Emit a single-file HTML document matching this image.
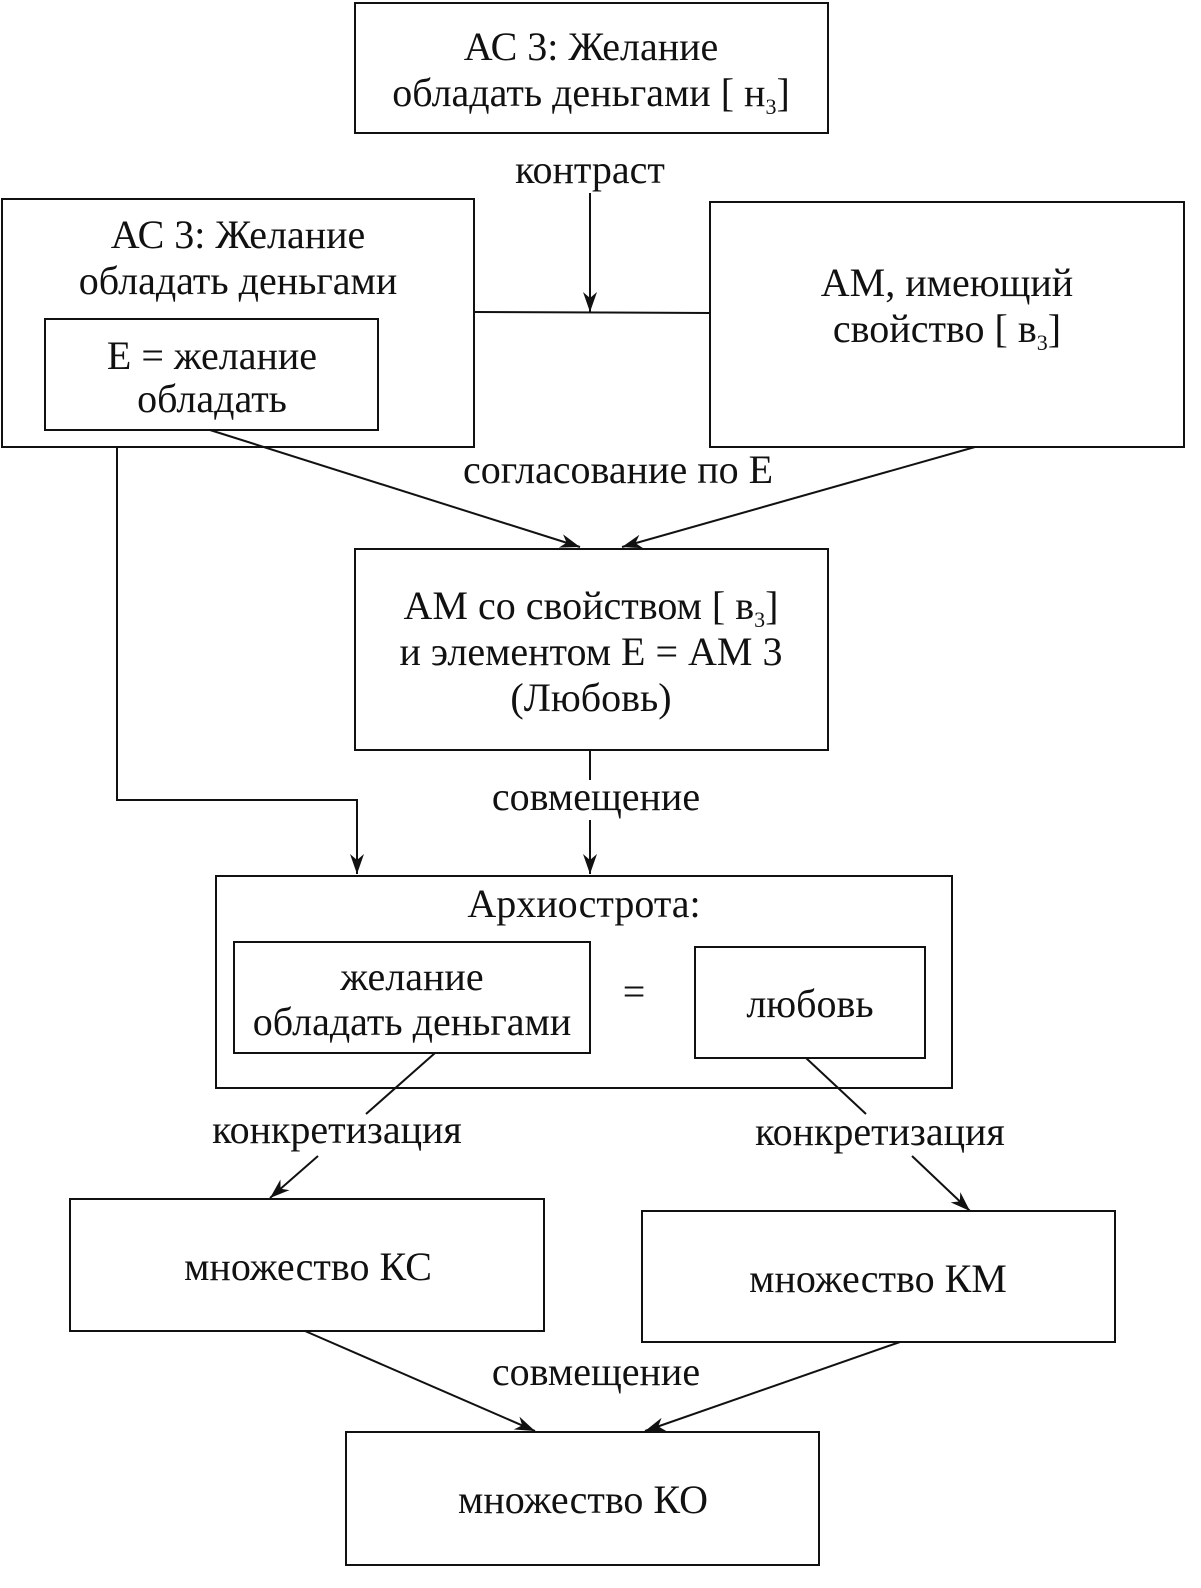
<!DOCTYPE html>
<html><head><meta charset="utf-8"><style>
html,body{margin:0;padding:0;background:#fff}
svg{display:block}
text{font-family:"Liberation Serif",serif;font-size:40px;fill:#111}
.s{font-size:22px}
</style></head><body>
<svg width="1201" height="1588" viewBox="0 0 1201 1588" xmlns="http://www.w3.org/2000/svg">
<defs>
<marker id="a" viewBox="0 0 20 14" refX="20" refY="7" markerWidth="20" markerHeight="14" markerUnits="userSpaceOnUse" orient="auto">
<path d="M0,0 L20,7 L0,14 L6,7 Z" fill="#111"/>
</marker>
</defs>
<g fill="none" stroke="#111" stroke-width="2">
<rect x="355" y="3" width="473" height="130"/>
<rect x="2" y="199" width="472" height="248"/>
<rect x="45" y="319" width="333" height="111"/>
<rect x="710" y="202" width="474" height="245"/>
<rect x="355" y="549" width="473" height="201"/>
<rect x="216" y="876" width="736" height="212"/>
<rect x="234" y="942" width="356" height="111"/>
<rect x="695" y="947" width="230" height="111"/>
<rect x="70" y="1199" width="474" height="132"/>
<rect x="642" y="1211" width="473" height="131"/>
<rect x="346" y="1432" width="473" height="133"/>
<line x1="474" y1="312" x2="710" y2="313"/>
<line x1="590" y1="193" x2="590" y2="312" marker-end="url(#a)"/>
<line x1="210" y1="430" x2="580" y2="547" marker-end="url(#a)"/>
<line x1="975" y1="447" x2="622" y2="547" marker-end="url(#a)"/>
<line x1="590" y1="750" x2="590" y2="780"/>
<line x1="590" y1="820" x2="590" y2="874" marker-end="url(#a)"/>
<polyline points="117,447 117,800 357,800 357,874" marker-end="url(#a)"/>
<line x1="435" y1="1053" x2="366" y2="1114"/>
<line x1="318" y1="1156" x2="270" y2="1198" marker-end="url(#a)"/>
<line x1="806" y1="1058" x2="866" y2="1114"/>
<line x1="912" y1="1156" x2="970" y2="1211" marker-end="url(#a)"/>
<line x1="305" y1="1331" x2="535" y2="1431" marker-end="url(#a)"/>
<line x1="900" y1="1342" x2="645" y2="1431" marker-end="url(#a)"/>
</g>
<g text-anchor="middle">
<text x="591" y="60">АС  3: Желание</text>
<text x="591" y="106">обладать деньгами [ н<tspan class="s" dy="8">3</tspan><tspan dy="-8">]</tspan></text>
<text x="590" y="183">контраст</text>
<text x="238" y="248">АС  3: Желание</text>
<text x="238" y="294">обладать деньгами</text>
<text x="212" y="369">Е = желание</text>
<text x="212" y="412">обладать</text>
<text x="947" y="296">АМ, имеющий</text>
<text x="947" y="342">свойство [ в<tspan class="s" dy="8">3</tspan><tspan dy="-8">]</tspan></text>
<text x="618" y="483">согласование по Е</text>
<text x="591" y="619">АМ со свойством [ в<tspan class="s" dy="8">3</tspan><tspan dy="-8">]</tspan></text>
<text x="591" y="665">и элементом Е = АМ 3</text>
<text x="591" y="711">(Любовь)</text>
<text x="596" y="810">совмещение</text>
<text x="584" y="917">Архиострота:</text>
<text x="412" y="990">желание</text>
<text x="412" y="1035">обладать деньгами</text>
<text x="634" y="1005">=</text>
<text x="810" y="1017">любовь</text>
<text x="337" y="1143">конкретизация</text>
<text x="880" y="1145">конкретизация</text>
<text x="308" y="1280">множество КС</text>
<text x="878" y="1292">множество КМ</text>
<text x="596" y="1385">совмещение</text>
<text x="583" y="1513">множество КО</text>
</g>
</svg>
</body></html>
